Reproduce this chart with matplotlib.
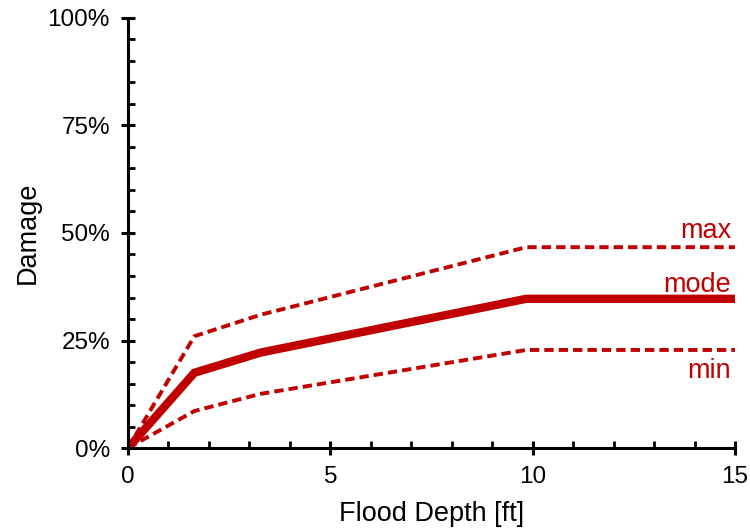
import matplotlib
matplotlib.use("Agg")
import matplotlib.pyplot as plt
from matplotlib.ticker import MultipleLocator, FuncFormatter

# depth-damage curve (ft, fraction)
depth = [0, 1.64, 3.28, 9.84, 15]
dmg_mode = [0, 0.175, 0.222, 0.347, 0.347]
dmg_max = [0, 0.26, 0.31, 0.467, 0.467]
dmg_min = [0, 0.086, 0.126, 0.228, 0.228]

RED = "#C00000"
plt.rcParams["font.family"] = ["Liberation Sans", "DejaVu Sans"]

fig = plt.figure(figsize=(7.5, 5.29), dpi=100)
ax = fig.add_axes([0.1707, 0.1531, 0.8093, 0.8129])

ax.plot(depth, dmg_max, color=RED, lw=2.8, ls=(0, (2.4, 1.3)))
ax.plot(depth, dmg_min, color=RED, lw=2.8, ls=(0, (2.4, 1.3)))
ax.plot(depth, dmg_mode, color=RED, lw=6, solid_joinstyle="miter")

ax.text(14.9, 0.488, "max", color=RED, fontsize=19.5, ha="right", va="baseline")
ax.text(14.9, 0.363, "mode", color=RED, fontsize=19.5, ha="right", va="baseline")
ax.text(14.9, 0.163, "min", color=RED, fontsize=19.5, ha="right", va="baseline")

ax.set_xlim(0, 15)
ax.set_ylim(0, 1)
ax.xaxis.set_major_locator(MultipleLocator(5))
ax.xaxis.set_minor_locator(MultipleLocator(1))
ax.yaxis.set_major_locator(MultipleLocator(0.25))
ax.yaxis.set_minor_locator(MultipleLocator(0.05))
ax.yaxis.set_major_formatter(FuncFormatter(lambda v, p: f"{v*100:.0f}%"))

for s in ["top", "right"]:
    ax.spines[s].set_visible(False)
for s in ["left", "bottom"]:
    ax.spines[s].set_linewidth(2.2)
ax.tick_params(which="major", direction="inout", length=10, width=2.2,
               labelsize=17.5, pad=8)
ax.tick_params(which="minor", direction="in", length=5, width=2)
ax.set_xlabel("Flood Depth [ft]", fontsize=19.5, labelpad=9)
ax.set_ylabel("Damage", fontsize=19.5, labelpad=5)

fig.savefig("out.png", dpi=100)
